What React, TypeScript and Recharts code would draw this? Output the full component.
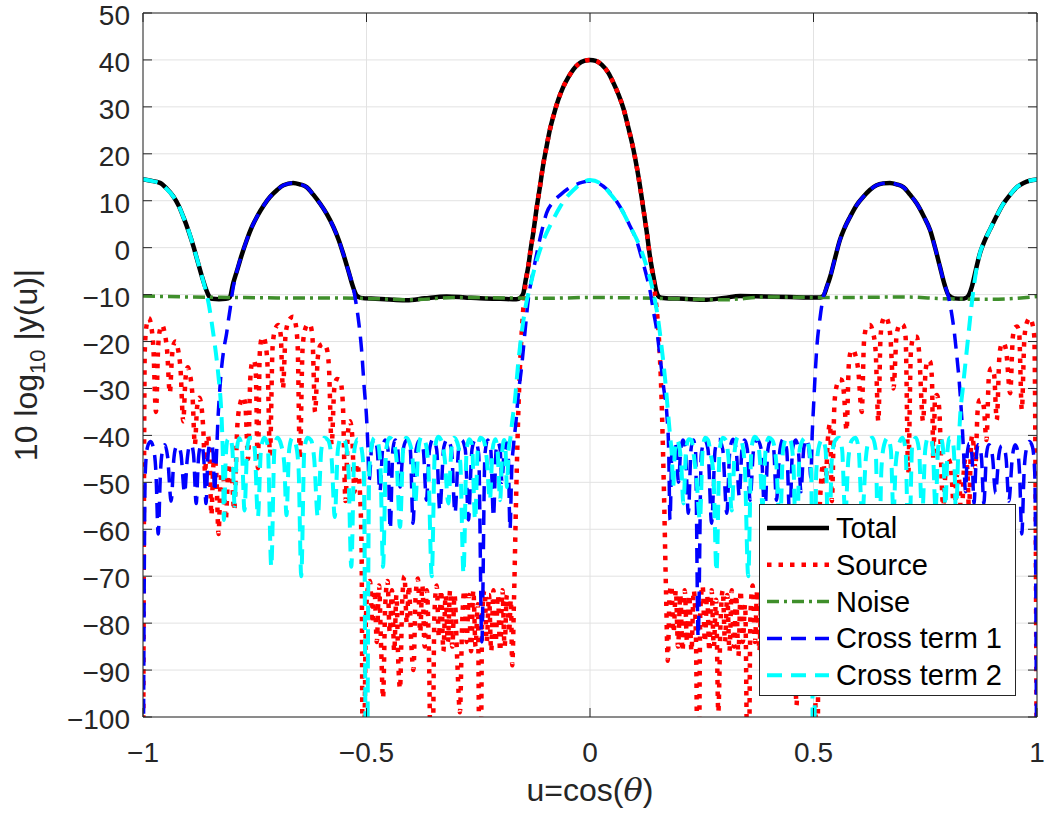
import { LineChart, Line, XAxis, YAxis, CartesianGrid, Label } from 'recharts';

// u = cos(theta) on x, 10 log10 |y(u)| in dB on y
const U_TICKS = [-1, -0.5, 0, 0.5, 1];
const DB_TICKS = [-100, -90, -80, -70, -60, -50, -40, -30, -20, -10, 0, 10, 20, 30, 40, 50];

const totalPts = [
  [-1, 14.6], [-0.985, 14.3], [-0.962, 13.8], [-0.947, 12.6], [-0.932, 10.9], [-0.92, 8.9], [-0.91, 6.6],
  [-0.898, 3.5], [-0.887, 0.2], [-0.877, -3.2], [-0.868, -6.2], [-0.86, -8.6], [-0.853, -10.2], [-0.845, -10.9],
  [-0.83, -11], [-0.815, -10.9], [-0.806, -10.6], [-0.798, -7.5], [-0.79, -5], [-0.779, -1.5], [-0.768, 1.6],
  [-0.757, 4.3], [-0.745, 6.6], [-0.73, 9], [-0.716, 10.8], [-0.7, 12.3], [-0.686, 13.3], [-0.664, 13.8],
  [-0.649, 13.5], [-0.634, 12.9], [-0.619, 11.3], [-0.604, 9.4], [-0.589, 7.2], [-0.574, 4.4], [-0.562, 1.6],
  [-0.552, -1.3], [-0.541, -4.8], [-0.53, -8.4], [-0.522, -10.2], [-0.513, -10.7], [-0.48, -10.9], [-0.44, -11.1],
  [-0.41, -11.2], [-0.37, -10.8], [-0.321, -10.4], [-0.28, -10.6], [-0.246, -10.8], [-0.2, -10.9], [-0.165, -11],
  [-0.155, -10.6], [-0.149, -9.7], [-0.144, -7], [-0.138, -4], [-0.133, -0.5], [-0.127, 3.1], [-0.12, 8],
  [-0.112, 13], [-0.105, 17.5], [-0.097, 21.6], [-0.09, 25], [-0.082, 28], [-0.071, 31.5], [-0.06, 34.2],
  [-0.048, 36.4], [-0.037, 38], [-0.025, 39.2], [-0.013, 39.8], [0, 40],
  [0.013, 39.8], [0.026, 39], [0.04, 37.4], [0.052, 35.2], [0.063, 32.8], [0.075, 29.6], [0.086, 25.5],
  [0.097, 21], [0.105, 17], [0.112, 13], [0.119, 8.5], [0.127, 3.3], [0.134, -1.8], [0.142, -6.2], [0.149, -9.5],
  [0.155, -10.5], [0.164, -10.7], [0.21, -10.9], [0.261, -11.1], [0.3, -10.7], [0.336, -10.3], [0.39, -10.4],
  [0.447, -10.5], [0.49, -10.6], [0.515, -10.6], [0.522, -10.3], [0.53, -8.3], [0.537, -6.3], [0.548, -2.3],
  [0.559, 1.6], [0.57, 4.3], [0.582, 6.6], [0.596, 9], [0.611, 10.8], [0.626, 12.3], [0.641, 13.3],
  [0.656, 13.7], [0.671, 13.8], [0.686, 13.5], [0.701, 12.9], [0.716, 11.3], [0.731, 9.4], [0.746, 6.8],
  [0.761, 3.7], [0.772, 0], [0.783, -4.1], [0.793, -7.8], [0.802, -10.1], [0.815, -10.8], [0.83, -10.9],
  [0.843, -10.6], [0.849, -9.8], [0.854, -8.4], [0.863, -4.8], [0.872, -1.3], [0.883, 1.5], [0.895, 3.9],
  [0.91, 6.8], [0.925, 9.4], [0.94, 11.3], [0.955, 12.9], [0.97, 13.8], [0.985, 14.3], [1, 14.5],
];

const sourcePts = [
  [-1, -130], [-0.996, -22], [-0.992, -16.5], [-0.987, -15], [-0.982, -16.5], [-0.977, -21], [-0.971, -35],
  [-0.966, -21], [-0.962, -17.5], [-0.957, -16.5], [-0.952, -18], [-0.946, -22], [-0.94, -31],
  [-0.935, -23], [-0.931, -20.5], [-0.927, -20], [-0.922, -21.5], [-0.916, -26], [-0.91, -37],
  [-0.905, -28], [-0.9, -25.5], [-0.895, -27], [-0.889, -32], [-0.884, -42],
  [-0.879, -34], [-0.874, -32], [-0.869, -34], [-0.865, -39], [-0.861, -48],
  [-0.858, -42], [-0.855, -40], [-0.851, -44], [-0.847, -57],
  [-0.843, -47], [-0.84, -45], [-0.836, -48], [-0.831, -61],
  [-0.827, -51], [-0.823, -48], [-0.819, -50], [-0.815, -58],
  [-0.81, -49], [-0.806, -46], [-0.801, -49], [-0.796, -56],
  [-0.789, -38], [-0.782, -33], [-0.776, -31.8], [-0.771, -33.5], [-0.765, -45],
  [-0.76, -28], [-0.756, -24.5], [-0.752, -24], [-0.748, -26], [-0.743, -47],
  [-0.739, -23], [-0.735, -19.5], [-0.731, -19], [-0.726, -20.5], [-0.721, -26], [-0.716, -44],
  [-0.71, -21], [-0.704, -17.3], [-0.697, -16.5], [-0.692, -18.5], [-0.687, -30],
  [-0.681, -18.5], [-0.674, -15.6], [-0.667, -14.8], [-0.664, -14.7], [-0.659, -16], [-0.654, -21], [-0.649, -45],
  [-0.643, -21.5], [-0.637, -17.3], [-0.631, -16.3], [-0.626, -16.5], [-0.621, -19], [-0.615, -35],
  [-0.609, -23.5], [-0.603, -20.8], [-0.596, -20.5], [-0.589, -21.5], [-0.584, -25.5], [-0.578, -42],
  [-0.572, -30], [-0.566, -28], [-0.559, -28.2], [-0.553, -33], [-0.547, -54],
  [-0.542, -40], [-0.537, -37], [-0.532, -40], [-0.527, -52],
  [-0.521, -46], [-0.516, -50], [-0.511, -64], [-0.508, -130],
  [-0.501, -78], [-0.496, -72], [-0.492, -71], [-0.487, -80], [-0.482, -73], [-0.477, -84], [-0.472, -72],
  [-0.467, -86], [-0.463, -96], [-0.458, -76], [-0.453, -71], [-0.448, -82], [-0.443, -73], [-0.438, -86],
  [-0.433, -74], [-0.429, -88], [-0.425, -94], [-0.42, -75], [-0.415, -70], [-0.41, -80], [-0.405, -72],
  [-0.4, -84], [-0.395, -90], [-0.39, -74], [-0.385, -70.5], [-0.38, -82], [-0.375, -72], [-0.37, -85],
  [-0.365, -73], [-0.36, -88], [-0.354, -130], [-0.348, -78], [-0.343, -72], [-0.338, -83], [-0.333, -73],
  [-0.328, -86], [-0.323, -74], [-0.318, -84], [-0.313, -73], [-0.308, -85], [-0.303, -74], [-0.297, -88],
  [-0.291, -99], [-0.286, -80], [-0.281, -73], [-0.276, -84], [-0.271, -74], [-0.266, -86], [-0.261, -73],
  [-0.256, -85], [-0.251, -76], [-0.246, -130], [-0.241, -78], [-0.236, -73], [-0.231, -84], [-0.226, -74],
  [-0.221, -86], [-0.216, -73], [-0.211, -84], [-0.206, -74], [-0.201, -86], [-0.196, -73], [-0.191, -85],
  [-0.186, -74], [-0.181, -82], [-0.177, -75], [-0.174, -89],
  [-0.17, -75], [-0.165, -52], [-0.16, -34], [-0.155, -22], [-0.15, -14], [-0.144, -7.5], [-0.138, -4],
  [-0.133, -0.5], [-0.127, 3.1], [-0.12, 8], [-0.112, 13], [-0.105, 17.5], [-0.097, 21.6], [-0.09, 25],
  [-0.082, 28], [-0.071, 31.5], [-0.06, 34.2], [-0.048, 36.4], [-0.037, 38], [-0.025, 39.2], [-0.013, 39.8],
  [0, 40], [0.013, 39.8], [0.026, 39], [0.04, 37.4], [0.052, 35.2], [0.063, 32.8], [0.075, 29.6], [0.086, 25.5],
  [0.097, 21], [0.105, 17], [0.112, 13], [0.119, 8.5], [0.127, 3.3], [0.134, -1.8], [0.142, -7],
  [0.148, -12], [0.154, -19], [0.16, -32], [0.165, -50], [0.17, -73], [0.174, -88],
  [0.178, -74], [0.182, -72], [0.187, -82], [0.192, -73], [0.197, -85], [0.202, -74], [0.207, -86],
  [0.212, -73], [0.217, -84], [0.222, -74], [0.227, -86], [0.232, -73], [0.237, -83], [0.242, -130],
  [0.247, -77], [0.252, -72], [0.257, -84], [0.262, -74], [0.267, -86], [0.272, -73], [0.277, -85],
  [0.282, -75], [0.287, -99], [0.292, -80], [0.297, -73], [0.302, -84], [0.307, -74], [0.312, -86],
  [0.317, -73], [0.322, -85], [0.327, -74], [0.332, -87], [0.337, -73], [0.342, -84], [0.347, -76],
  [0.354, -130], [0.359, -78], [0.364, -72], [0.369, -84], [0.374, -73], [0.379, -86], [0.384, -72],
  [0.39, -90], [0.395, -74], [0.4, -71], [0.405, -82], [0.41, -72], [0.415, -85], [0.42, -74],
  [0.425, -94], [0.43, -75], [0.435, -72], [0.44, -84], [0.445, -73], [0.45, -87], [0.455, -72],
  [0.462, -97.5], [0.467, -78], [0.472, -72], [0.477, -83], [0.482, -73], [0.487, -82], [0.492, -72],
  [0.497, -76], [0.502, -80], [0.508, -130],
  [0.512, -62], [0.517, -50], [0.522, -46], [0.527, -50], [0.532, -41], [0.537, -37.5], [0.541, -54],
  [0.547, -33], [0.553, -29], [0.558, -28], [0.563, -28.2], [0.568, -31], [0.574, -39],
  [0.579, -25], [0.584, -22], [0.589, -21.8], [0.594, -23], [0.6, -26], [0.608, -35],
  [0.613, -20], [0.619, -16.8], [0.626, -16.5], [0.633, -18], [0.639, -22], [0.645, -37],
  [0.65, -19], [0.655, -15.5], [0.66, -14.7], [0.666, -15.5], [0.672, -19], [0.679, -30],
  [0.686, -18.5], [0.694, -16.2], [0.701, -16.5], [0.706, -19], [0.712, -48],
  [0.718, -22], [0.724, -19], [0.731, -19], [0.736, -22], [0.745, -37],
  [0.751, -26], [0.756, -24], [0.761, -24.3], [0.765, -28], [0.768, -45],
  [0.772, -32], [0.776, -31.4], [0.781, -34], [0.79, -55],
  [0.796, -47], [0.801, -45], [0.806, -46], [0.81, -50], [0.815, -58], [0.819, -50], [0.823, -48],
  [0.827, -51], [0.831, -60], [0.836, -48], [0.84, -45], [0.844, -47], [0.848, -56], [0.852, -43],
  [0.855, -40], [0.858, -42], [0.862, -47], [0.867, -35], [0.871, -32.5], [0.876, -32.4], [0.881, -34],
  [0.887, -41], [0.892, -28], [0.896, -25.8], [0.899, -25.7], [0.904, -27], [0.91, -36.7],
  [0.916, -23], [0.921, -20.5], [0.925, -20.3], [0.931, -22], [0.94, -31],
  [0.946, -19], [0.951, -17], [0.955, -16.8], [0.96, -18], [0.966, -34.6],
  [0.972, -19], [0.978, -15.8], [0.984, -15], [0.989, -16], [0.994, -19], [1, -130],
];

const noisePts = [
  [-1, -10.3], [-0.9, -10.5], [-0.8, -10.6], [-0.7, -10.7], [-0.6, -10.7], [-0.5, -10.8], [-0.4, -11.1],
  [-0.3, -10.6], [-0.2, -10.7], [-0.1, -10.8], [0, -10.6], [0.1, -10.7], [0.2, -10.9], [0.3, -11.1],
  [0.4, -10.5], [0.5, -10.6], [0.6, -10.6], [0.7, -10.5], [0.8, -10.9], [0.9, -11], [1, -10.4],
];

const cross1Pts = [
  [-1, -130], [-0.995, -48], [-0.99, -42.5], [-0.983, -41.3], [-0.976, -43], [-0.971, -48], [-0.966, -61],
  [-0.961, -48], [-0.956, -43], [-0.951, -42], [-0.945, -44.5], [-0.937, -54],
  [-0.931, -45], [-0.926, -42.5], [-0.921, -42.2], [-0.915, -44], [-0.907, -52.3],
  [-0.901, -45], [-0.897, -42.5], [-0.892, -42], [-0.887, -44], [-0.881, -54.5],
  [-0.876, -45], [-0.872, -42.5], [-0.868, -42], [-0.864, -45], [-0.859, -54.5],
  [-0.855, -45], [-0.851, -42], [-0.847, -41.7], [-0.843, -44], [-0.84, -52],
  [-0.836, -45], [-0.832, -36], [-0.828, -30], [-0.824, -25.4], [-0.819, -21.5], [-0.813, -18.3],
  [-0.809, -15.5], [-0.805, -13], [-0.8, -9.5], [-0.79, -5], [-0.779, -1.5], [-0.768, 1.6], [-0.757, 4.3],
  [-0.745, 6.6], [-0.73, 9], [-0.716, 10.8], [-0.7, 12.3], [-0.686, 13.3], [-0.664, 13.8], [-0.649, 13.5],
  [-0.634, 12.9], [-0.619, 11.3], [-0.604, 9.4], [-0.589, 7.2], [-0.574, 4.4], [-0.562, 1.6], [-0.552, -1.3],
  [-0.541, -4.8], [-0.53, -8.4], [-0.524, -11.5], [-0.518, -15.4], [-0.511, -21.8], [-0.505, -30],
  [-0.5, -36], [-0.497, -42], [-0.494, -49.5],
  [-0.488, -42], [-0.482, -40.8], [-0.476, -43], [-0.47, -52], [-0.464, -43], [-0.458, -41], [-0.452, -43],
  [-0.447, -60], [-0.441, -43], [-0.436, -41], [-0.43, -43], [-0.425, -51], [-0.418, -43], [-0.41, -41],
  [-0.402, -43], [-0.396, -58.7], [-0.389, -43], [-0.381, -41], [-0.373, -43], [-0.366, -53.8],
  [-0.359, -43], [-0.351, -40.8], [-0.343, -43], [-0.336, -56], [-0.327, -42.5], [-0.319, -40.8],
  [-0.31, -43], [-0.302, -56.6], [-0.294, -43], [-0.287, -41], [-0.279, -43], [-0.272, -58],
  [-0.264, -43], [-0.257, -41], [-0.249, -44], [-0.242, -84], [-0.235, -44], [-0.229, -41], [-0.222, -43],
  [-0.216, -57.4], [-0.21, -43], [-0.206, -41.5], [-0.201, -43], [-0.197, -50], [-0.192, -43],
  [-0.187, -41.5], [-0.183, -44], [-0.179, -60], [-0.175, -47], [-0.171, -42], [-0.166, -37.5],
  [-0.16, -31], [-0.153, -25.4], [-0.145, -17.5], [-0.138, -11], [-0.128, -5.5], [-0.119, -1.2],
  [-0.108, 3.5], [-0.097, 7.4], [-0.082, 9.8], [-0.067, 11.2], [-0.05, 12.5], [-0.037, 13.2],
  [-0.018, 13.9], [0, 14.2],
  [0.018, 13.8], [0.037, 12.5], [0.055, 10.5], [0.075, 7.4], [0.09, 4.5], [0.104, 1.6], [0.115, -2],
  [0.127, -6.2], [0.135, -9.5], [0.142, -13.6], [0.15, -18], [0.157, -23.5], [0.165, -30], [0.172, -35.6],
  [0.176, -43], [0.179, -58], [0.183, -44], [0.188, -41.5], [0.193, -43], [0.198, -50],
  [0.203, -43], [0.208, -41], [0.213, -42.5], [0.22, -56.6], [0.226, -43], [0.231, -41], [0.236, -43],
  [0.242, -83], [0.249, -44], [0.257, -41], [0.264, -43], [0.272, -58.7], [0.28, -43], [0.288, -40.8],
  [0.297, -43], [0.306, -56.6], [0.313, -43], [0.32, -40.8], [0.327, -43], [0.334, -53], [0.34, -43],
  [0.346, -41], [0.352, -43], [0.358, -53.8], [0.366, -43], [0.374, -40.8], [0.383, -43], [0.391, -57],
  [0.398, -43], [0.404, -41], [0.411, -43], [0.417, -53.8], [0.425, -43], [0.432, -40.8], [0.44, -43],
  [0.447, -58], [0.453, -43], [0.46, -41], [0.466, -43], [0.472, -52], [0.478, -43], [0.484, -40.8],
  [0.49, -43], [0.494, -49], [0.497, -40], [0.5, -34], [0.507, -21.8], [0.515, -14.7], [0.522, -10.5],
  [0.53, -8.3], [0.537, -6.3], [0.548, -2.3], [0.559, 1.6], [0.57, 4.3], [0.582, 6.6], [0.596, 9],
  [0.611, 10.8], [0.626, 12.3], [0.641, 13.3], [0.656, 13.7], [0.671, 13.8], [0.686, 13.5], [0.701, 12.9],
  [0.716, 11.3], [0.731, 9.4], [0.746, 6.8], [0.761, 3.7], [0.772, 0], [0.783, -4.1], [0.793, -7.8],
  [0.802, -10.5], [0.809, -14], [0.815, -18], [0.82, -22.5], [0.826, -28.5], [0.831, -35.3], [0.836, -44],
  [0.84, -52], [0.844, -44], [0.848, -41.7], [0.852, -42.5], [0.855, -45], [0.859, -54.5],
  [0.864, -45], [0.868, -42], [0.872, -42.5], [0.876, -45], [0.881, -54.5],
  [0.887, -44], [0.892, -42], [0.897, -42.5], [0.901, -45], [0.907, -52.3],
  [0.915, -44], [0.921, -42.2], [0.926, -42.5], [0.931, -45], [0.937, -54],
  [0.945, -44.5], [0.951, -42], [0.956, -43], [0.961, -48], [0.966, -61],
  [0.971, -48], [0.976, -43], [0.983, -41.3], [0.99, -42.5], [0.995, -48], [1, -130],
];

const cross2Pts = [
  [-1, 14.6], [-0.985, 14.3], [-0.962, 13.7], [-0.947, 12.5], [-0.932, 10.9], [-0.92, 8.9], [-0.91, 6.6],
  [-0.898, 3.6], [-0.887, 0.2], [-0.877, -3.1], [-0.868, -6.2], [-0.86, -9], [-0.853, -12], [-0.847, -15.5],
  [-0.841, -19.5], [-0.835, -24], [-0.83, -28.5], [-0.826, -33], [-0.823, -39], [-0.821, -46], [-0.819, -58],
  [-0.815, -45], [-0.811, -41], [-0.805, -40.5], [-0.8, -43], [-0.795, -55],
  [-0.79, -43], [-0.785, -40.6], [-0.779, -42.5], [-0.773, -56],
  [-0.767, -43], [-0.762, -40.6], [-0.756, -40.5], [-0.75, -43], [-0.743, -57.4],
  [-0.736, -43], [-0.729, -40.5], [-0.721, -42], [-0.713, -68],
  [-0.706, -43], [-0.699, -40.5], [-0.691, -42], [-0.684, -46], [-0.679, -57],
  [-0.673, -43], [-0.666, -40.5], [-0.658, -42], [-0.652, -47], [-0.646, -70],
  [-0.639, -43], [-0.632, -40.5], [-0.624, -41], [-0.617, -45], [-0.609, -57.4],
  [-0.601, -43], [-0.594, -40.5], [-0.586, -41], [-0.578, -45], [-0.571, -57.4],
  [-0.564, -43], [-0.557, -40.5], [-0.549, -41], [-0.541, -46], [-0.534, -68],
  [-0.527, -43], [-0.52, -40.8], [-0.513, -42], [-0.506, -48], [-0.5, -130],
  [-0.494, -48], [-0.488, -42], [-0.482, -40.5], [-0.476, -41], [-0.469, -46], [-0.463, -68],
  [-0.456, -43], [-0.449, -40.5], [-0.441, -41], [-0.433, -45], [-0.425, -59.5],
  [-0.418, -43], [-0.411, -40.5], [-0.404, -41.5], [-0.397, -45], [-0.391, -54.5],
  [-0.384, -43], [-0.377, -40.3], [-0.37, -41], [-0.362, -46], [-0.354, -70],
  [-0.347, -43], [-0.34, -40.3], [-0.333, -41], [-0.325, -45], [-0.317, -54.5],
  [-0.31, -43], [-0.304, -40.5], [-0.297, -41.5], [-0.29, -46], [-0.283, -69.4],
  [-0.276, -43], [-0.27, -40.8], [-0.264, -42], [-0.257, -58],
  [-0.251, -43], [-0.245, -40.5], [-0.238, -41], [-0.231, -45], [-0.224, -53.8],
  [-0.218, -43], [-0.212, -40.8], [-0.207, -43], [-0.201, -53.8],
  [-0.196, -43], [-0.192, -41], [-0.189, -43], [-0.186, -51],
  [-0.182, -43], [-0.178, -40.5], [-0.174, -37], [-0.168, -32.5], [-0.161, -25], [-0.153, -18.3],
  [-0.144, -12.5], [-0.134, -8.3], [-0.12, -3], [-0.104, 1.6], [-0.085, 5.5], [-0.067, 8.7], [-0.05, 11],
  [-0.037, 12.3], [-0.018, 13.8], [0, 14.4],
  [0.022, 13.8], [0.045, 11.5], [0.067, 8.7], [0.09, 4.5], [0.112, 0.1], [0.128, -4.5], [0.142, -9.7],
  [0.152, -15], [0.16, -21], [0.168, -28], [0.175, -35.6], [0.179, -40], [0.183, -44], [0.186, -51],
  [0.19, -43], [0.194, -41], [0.199, -42], [0.204, -46], [0.209, -54.5],
  [0.215, -43], [0.221, -40.8], [0.227, -41], [0.232, -44], [0.238, -49], [0.246, -58],
  [0.252, -43], [0.258, -40.5], [0.264, -41], [0.27, -44], [0.276, -48], [0.283, -69],
  [0.29, -43], [0.297, -40.5], [0.304, -41], [0.31, -45], [0.317, -56],
  [0.324, -43], [0.331, -40.3], [0.338, -41], [0.346, -46], [0.354, -70],
  [0.361, -43], [0.368, -40.3], [0.375, -41], [0.38, -45], [0.386, -55],
  [0.393, -43], [0.4, -40.5], [0.408, -41], [0.416, -45], [0.425, -59.5],
  [0.432, -43], [0.44, -40.5], [0.448, -41], [0.455, -46], [0.462, -68],
  [0.469, -43], [0.476, -41], [0.483, -40.5], [0.489, -42], [0.495, -48], [0.5, -130],
  [0.506, -48], [0.513, -42], [0.52, -40.8], [0.527, -43], [0.534, -68],
  [0.541, -45], [0.549, -41], [0.557, -40.5], [0.564, -43], [0.571, -57.4],
  [0.578, -45], [0.586, -41], [0.594, -40.5], [0.601, -43], [0.609, -57.4],
  [0.617, -45], [0.624, -41], [0.632, -40.5], [0.639, -43], [0.646, -70],
  [0.652, -47], [0.658, -42], [0.666, -40.5], [0.673, -43], [0.679, -57],
  [0.684, -46], [0.691, -42], [0.699, -40.5], [0.706, -43], [0.713, -68],
  [0.721, -42], [0.729, -40.5], [0.736, -43], [0.743, -57.4],
  [0.75, -43], [0.756, -40.5], [0.762, -40.6], [0.767, -43], [0.773, -56],
  [0.779, -42.5], [0.785, -40.6], [0.79, -43], [0.795, -55],
  [0.8, -43], [0.805, -40.5], [0.811, -41], [0.815, -45], [0.819, -58],
  [0.823, -46], [0.828, -36], [0.834, -30], [0.839, -25.4], [0.845, -20], [0.85, -15.4], [0.857, -9.5],
  [0.863, -5.5], [0.872, -1.3], [0.883, 1.5], [0.895, 3.9], [0.91, 6.8], [0.925, 9.4], [0.94, 11.3],
  [0.955, 12.9], [0.97, 13.8], [0.985, 14.3], [1, 14.5],
];

const toRows = (pts: number[][]) => pts.map(([u, v]) => ({ u, v }));

const SERIES = [
  { name: 'Total', data: toRows(totalPts), color: '#000000', width: 4.5, dash: undefined },
  { name: 'Source', data: toRows(sourcePts), color: '#ff0000', width: 4.5, dash: '4.5 7' },
  { name: 'Noise', data: toRows(noisePts), color: '#3f8f2b', width: 3.5, dash: '12 5 3 5' },
  { name: 'Cross term 1', data: toRows(cross1Pts), color: '#0000ff', width: 3.5, dash: '15 9' },
  { name: 'Cross term 2', data: toRows(cross2Pts), color: '#00ffff', width: 4, dash: '15 9' },
];

const FONT = '"Liberation Sans", Arial, Helvetica, sans-serif';
const INK = '#262626';
const W = 1044;
const H = 817;
const PLOT_L = 143;
const PLOT_R = 1037;
const PLOT_T = 13;
const PLOT_B = 717;
const TICK_LEN = 9;

// MATLAB prints a true minus sign on tick labels
const fmt = (v: number) => (v < 0 ? '\u2212' + String(-v) : String(v));

const XTick = (props: any) => {
  const { x, payload } = props;
  return (
    <g>
      <line x1={x} x2={x} y1={PLOT_B} y2={PLOT_B - TICK_LEN} stroke={INK} />
      <line x1={x} x2={x} y1={PLOT_T} y2={PLOT_T + TICK_LEN} stroke={INK} />
      <text x={x} y={PLOT_B + 45} textAnchor="middle" fontSize={28} fill={INK} fontFamily={FONT}>
        {fmt(payload.value)}
      </text>
    </g>
  );
};

const YTick = (props: any) => {
  const { y, payload } = props;
  return (
    <g>
      <line x1={PLOT_L} x2={PLOT_L + TICK_LEN} y1={y} y2={y} stroke={INK} />
      <line x1={PLOT_R - TICK_LEN} x2={PLOT_R} y1={y} y2={y} stroke={INK} />
      <text x={PLOT_L - 13} y={y + 12} textAnchor="end" fontSize={28} fill={INK} fontFamily={FONT}>
        {fmt(payload.value)}
      </text>
    </g>
  );
};

const XTitle = () => (
  <text x={(PLOT_L + PLOT_R) / 2} y={801} textAnchor="middle" fontSize={32} fill={INK} fontFamily={FONT}>
    u=cos(<tspan fontFamily='"DejaVu Serif", serif' fontStyle="italic">θ</tspan>)
  </text>
);

const YTitle = () => (
  <text
    transform="rotate(-90)"
    x={-(PLOT_T + PLOT_B) / 2}
    y={37}
    textAnchor="middle"
    fontSize={32}
    fill={INK}
    fontFamily={FONT}
  >
    10 log<tspan dy={8} fontSize={22}>10</tspan>
    <tspan dy={-8}> |y(u)|</tspan>
  </text>
);

const LegendBox = () => (
  <div
    style={{
      position: 'absolute',
      left: 759,
      top: 504,
      width: 257,
      height: 192,
      boxSizing: 'border-box',
      border: `1px solid ${INK}`,
      background: '#fff',
    }}
  >
    <svg width={255} height={190}>
      {SERIES.map((s, i) => {
        const cy = 23 + i * 36.8;
        return (
          <g key={s.name}>
            <line x1={7} x2={69} y1={cy} y2={cy} stroke={s.color} strokeWidth={s.width} strokeDasharray={s.dash} />
            <text x={76} y={cy + 10} fontSize={29} fill="#000" fontFamily={FONT}>
              {s.name}
            </text>
          </g>
        );
      })}
    </svg>
  </div>
);

export default function App() {
  return (
    <div style={{ position: 'absolute', left: 0, top: 0, width: W, height: H, background: '#fff' }}>
      <LineChart width={W} height={H} margin={{ top: 0, right: 0, bottom: 0, left: 0 }}>
        <CartesianGrid stroke="#e2e2e2" />
        <XAxis
          type="number"
          dataKey="u"
          domain={[-1, 1]}
          ticks={U_TICKS}
          interval={0}
          allowDataOverflow
          height={H - PLOT_B}
          stroke={INK}
          tickLine={false}
          tick={<XTick />}
        >
          <Label content={XTitle} />
        </XAxis>
        <XAxis xAxisId="top" orientation="top" type="number" domain={[-1, 1]} height={PLOT_T} stroke={INK} tick={false} tickLine={false} />
        <YAxis
          type="number"
          domain={[-100, 50]}
          ticks={DB_TICKS}
          interval={0}
          allowDataOverflow
          width={PLOT_L}
          stroke={INK}
          tickLine={false}
          tick={<YTick />}
        >
          <Label content={YTitle} />
        </YAxis>
        <YAxis yAxisId="right" orientation="right" type="number" domain={[-100, 50]} width={W - PLOT_R} stroke={INK} tick={false} tickLine={false} />
        {SERIES.map((s) => (
          <Line
            key={s.name}
            name={s.name}
            data={s.data}
            dataKey="v"
            type="monotone"
            stroke={s.color}
            strokeWidth={s.width}
            strokeDasharray={s.dash}
            dot={false}
            activeDot={false}
            isAnimationActive={false}
          />
        ))}
      </LineChart>
      <LegendBox />
    </div>
  );
}
